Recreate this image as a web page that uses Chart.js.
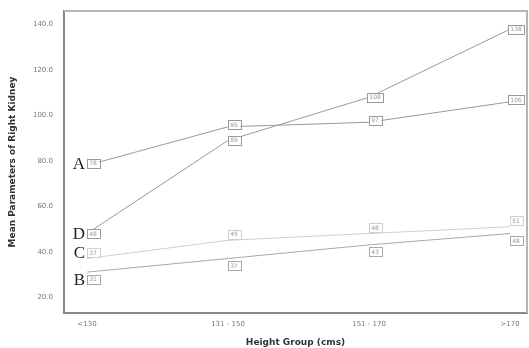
<!DOCTYPE html>
<html>
<head>
<meta charset="utf-8">
<script src="https://cdn.jsdelivr.net/npm/chart.js@4/dist/chart.umd.min.js"></script>
<style>
  html, body { margin: 0; padding: 0; background: #fff; }
  #wrap { width: 529px; height: 348px; }
</style>
</head>
<body>
<div id="wrap"><canvas id="grafico"></canvas></div>
<script>
// Datos
var grupos = ['<130', '131 - 150', '151 - 170', '>170'];
var serieA = [78, 95, 97, 106];
var serieB = [31, 37, 43, 48];
var serieC = [37, 45, 48, 51];
var serieD = [48, 89, 108, 138];
var ticksY = [20, 40, 60, 80, 100, 120, 140];

// colores y desplazamiento de las cajas de valor
var estilos = {
    A: { color: '#9a9a9a', dy: -2 },
    B: { color: '#a8a8a8', dy: 7 },
    C: { color: '#cfcfcf', dy: -6 },
    D: { color: '#9a9a9a', dy: 0 }
};

function puntos(valores) {
    return valores.map(function(v, i) { return { x: i, y: v }; });
}

function serie(nombre, valores) {
    return {
        label: nombre,
        data: puntos(valores),
        borderColor: estilos[nombre].color,
        borderWidth: 1,
        pointRadius: 0,
        tension: 0,
        fill: false
    };
}

// cajas con el valor y letras A-D
var etiquetas = {
    id: 'etiquetas',
    afterDatasetsDraw: function(chart) {
        var ctx = chart.ctx;
        ctx.save();
        chart.data.datasets.forEach(function(ds, di) {
            var meta = chart.getDatasetMeta(di);
            var est = estilos[ds.label];
            meta.data.forEach(function(p, i) {
                var txt = String(Math.round(ds.data[i].y));
                ctx.font = '6px "DejaVu Sans"';
                var w = ctx.measureText(txt).width + 5;
                var h = 9;
                var cx = p.x + 6;
                var cy = p.y + est.dy;
                ctx.fillStyle = '#fff';
                ctx.fillRect(cx - w / 2, cy - h / 2, w, h);
                ctx.strokeStyle = est.color;
                ctx.lineWidth = 1;
                ctx.strokeRect(Math.round(cx - w / 2) + 0.5, Math.round(cy - h / 2) + 0.5, Math.round(w), h);
                ctx.fillStyle = '#999';
                ctx.textAlign = 'center';
                ctx.textBaseline = 'middle';
                ctx.fillText(txt, cx, cy + 0.5);
            });
            // letra de la serie a la izquierda del primer punto
            var p0 = meta.data[0];
            ctx.font = '17px "Liberation Serif"';
            ctx.fillStyle = '#222';
            ctx.textAlign = 'right';
            ctx.textBaseline = 'middle';
            ctx.fillText(ds.label, p0.x - 2, p0.y + est.dy + 1);
        });
        // marco superior y derecho
        var a = chart.chartArea;
        ctx.strokeStyle = '#b5b5b5';
        ctx.lineWidth = 2;
        ctx.beginPath();
        ctx.moveTo(a.left, a.top);
        ctx.lineTo(a.right, a.top);
        ctx.lineTo(a.right, a.bottom);
        ctx.stroke();
        ctx.restore();
    }
};

var ctx = document.getElementById('grafico').getContext('2d');
var grafico = new Chart(ctx, {
    type: 'line',
    data: {
        datasets: [
            serie('A', serieA),
            serie('D', serieD),
            serie('C', serieC),
            serie('B', serieB)
        ]
    },
    options: {
        responsive: true,
        maintainAspectRatio: false,
        animation: false,
        layout: { padding: { top: 11, right: 2, left: 0, bottom: 0 } },
        plugins: {
            legend: { display: false },
            tooltip: { enabled: false }
        },
        scales: {
            x: {
                type: 'linear',
                min: -0.163,
                max: 3.12,
                afterBuildTicks: function(s) {
                    s.ticks = grupos.map(function(g, i) { return { value: i }; });
                },
                afterFit: function(s) { s.height = 35; },
                grid: { display: false, drawTicks: true, tickLength: 5, tickColor: '#888' },
                border: { color: '#888', width: 2 },
                ticks: {
                    autoSkip: false,
                    maxRotation: 0,
                    padding: 2,
                    color: '#777',
                    font: { family: 'DejaVu Sans', size: 7 },
                    callback: function(v) { return grupos[v]; }
                },
                title: {
                    display: true,
                    text: 'Height Group (cms)',
                    color: '#333',
                    font: { family: 'DejaVu Sans', size: 9, weight: 'bold' },
                    padding: { top: 3, bottom: 0 }
                }
            },
            y: {
                min: 13,
                max: 146,
                afterBuildTicks: function(s) {
                    s.ticks = ticksY.map(function(v) { return { value: v }; });
                },
                afterFit: function(s) { s.width = 64; },
                grid: { display: false, drawTicks: true, tickLength: 8, tickColor: '#888' },
                border: { color: '#888', width: 2 },
                ticks: {
                    padding: 3,
                    color: '#777',
                    font: { family: 'DejaVu Sans', size: 7 },
                    callback: function(v) { return v.toFixed(1); }
                },
                title: {
                    display: true,
                    text: 'Mean Parameters of Right Kidney',
                    color: '#333',
                    font: { family: 'DejaVu Sans', size: 9, weight: 'bold' },
                    padding: { top: 7, bottom: 2 }
                }
            }
        }
    },
    plugins: [etiquetas]
});
</script>
</body>
</html>
